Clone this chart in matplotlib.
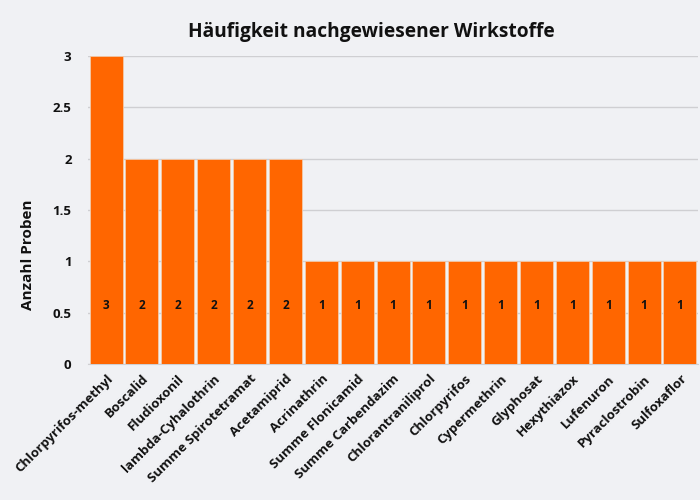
import matplotlib
matplotlib.use("Agg")
import matplotlib.pyplot as plt

# Data
wirkstoffe = [
    "Chlorpyrifos-methyl", "Boscalid", "Fludioxonil", "lambda-Cyhalothrin",
    "Summe Spirotetramat", "Acetamiprid", "Acrinathrin", "Summe Flonicamid",
    "Summe Carbendazim", "Chlorantraniliprol", "Chlorpyrifos", "Cypermethrin",
    "Glyphosat", "Hexythiazox", "Lufenuron", "Pyraclostrobin", "Sulfoxaflor",
]
anzahl = [3, 2, 2, 2, 2, 2, 1, 1, 1, 1, 1, 1, 1, 1, 1, 1, 1]
y_ticks = [0, 0.5, 1, 1.5, 2, 2.5, 3]

plt.rcParams["font.family"] = ["Open Sans", "DejaVu Sans"]
plt.rcParams["font.weight"] = "bold"

bg = "#f0f1f4"
fig = plt.figure(figsize=(7, 5), dpi=100, facecolor=bg)
ax = fig.add_axes([0.126, 0.272, 0.871, 0.616], facecolor=bg)

x = list(range(len(wirkstoffe)))
bars = ax.bar(x, anzahl, width=0.92, color="#ff6600", edgecolor="#f3c9a8",
              linewidth=0.6, zorder=3)

for xi in x:
    ax.text(xi, 0.57, str(anzahl[xi]), ha="center", va="center",
            fontsize=8.5, fontweight="bold", color="#111111", zorder=4)

ax.set_xlim(-0.5, len(wirkstoffe) - 0.5)
ax.set_ylim(0, 3)
ax.set_yticks(y_ticks)
ax.set_yticklabels(["0", "0.5", "1", "1.5", "2", "2.5", "3"],
                   fontsize=9.5, fontweight="bold", color="#111111")
ax.set_xticks(x)
ax.set_xticklabels(wirkstoffe, rotation=45, ha="right", rotation_mode="anchor",
                   fontsize=9.5, fontweight="bold", color="#111111")
ax.tick_params(axis="both", length=0)
ax.tick_params(axis="y", pad=12)
ax.tick_params(axis="x", pad=6)

ax.grid(axis="y", color="#cfcfd2", linewidth=1, zorder=0)
for side in ["top", "right", "left"]:
    ax.spines[side].set_visible(False)
ax.spines["bottom"].set_color("#cfcfd2")

ax.set_ylabel("Anzahl Proben", fontsize=11, fontweight="bold", color="#111111")
ax.yaxis.set_label_coords(-0.088, 0.354)
fig.text(0.531, 0.936, "Häufigkeit nachgewiesener Wirkstoffe", ha="center",
         va="center", fontsize=13.8, fontweight="bold", color="#111111")

fig.savefig("out.png", dpi=100, facecolor=bg)
